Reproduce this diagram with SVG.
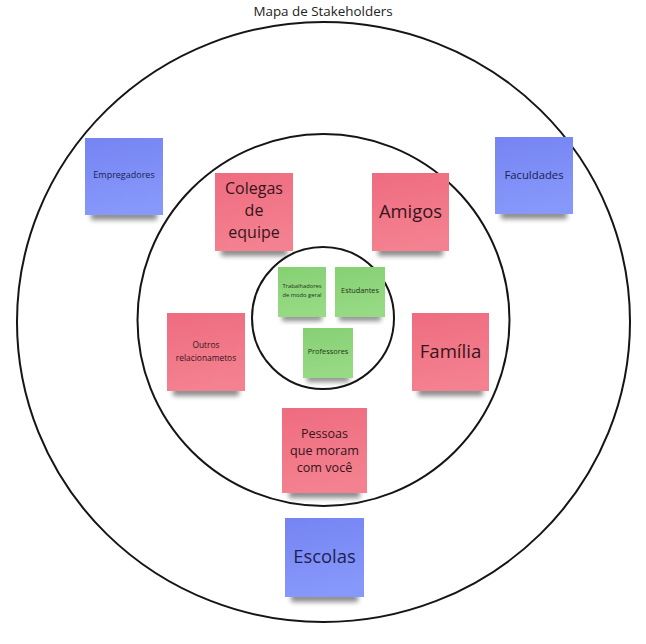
<svg xmlns="http://www.w3.org/2000/svg" width="646" height="644" viewBox="0 0 646 644">
<style>
text{font-family:"Open Sans","Noto Sans","Liberation Sans",sans-serif;text-anchor:middle;dominant-baseline:central}
.ring{fill:none;stroke:#151515;stroke-width:2}
.red{fill:url(#gr)}
.blue{fill:url(#gb)}
.green{fill:url(#gg)}
.sh{fill:#000;opacity:.45;filter:url(#blur)}
.tr{fill:#35141c}
.tb{fill:#1a2250}
.tg{fill:#1f3319}
</style>
<defs>
<linearGradient id="gr" x1="0" y1="0" x2="0.2" y2="1"><stop offset="0" stop-color="#ee6c7f"/><stop offset="1" stop-color="#f4818f"/></linearGradient>
<linearGradient id="gb" x1="0" y1="0" x2="0.2" y2="1"><stop offset="0" stop-color="#7584f2"/><stop offset="1" stop-color="#8798fb"/></linearGradient>
<linearGradient id="gg" x1="0" y1="0" x2="0.2" y2="1"><stop offset="0" stop-color="#86d073"/><stop offset="1" stop-color="#97da84"/></linearGradient>
<filter id="blur" x="-20%" y="-50%" width="140%" height="200%"><feGaussianBlur stdDeviation="2.5"/></filter>
</defs>
<rect width="646" height="644" fill="#fff"/>
<text x="323" y="11" font-size="13.4" fill="#222">Mapa de Stakeholders</text>
<g id="rings">
<ellipse class="ring" cx="323.5" cy="322" rx="306.5" ry="300"/>
<circle class="ring" cx="323.5" cy="320" r="186"/>
<circle class="ring" cx="323" cy="318" r="71"/>
</g>
<g id="connectors"></g>
<g id="empregadores">
<rect class="sh" x="91" y="211" width="66" height="9"/>
<rect class="blue" x="85" y="138" width="78" height="77"/>
<text class="tb" x="124" y="174" font-size="9">Empregadores</text>
</g>
<g id="faculdades">
<rect class="sh" x="501" y="210" width="66" height="9"/>
<rect class="blue" x="495" y="137" width="78" height="77"/>
<text class="tb" x="534" y="174" font-size="11.3">Faculdades</text>
</g>
<g id="colegas">
<rect class="sh" x="221" y="247" width="66" height="9"/>
<rect class="red" x="215" y="173" width="78" height="78"/>
<text class="tr" font-size="16"><tspan x="254" y="188">Colegas</tspan><tspan x="254" y="210">de</tspan><tspan x="254" y="232">equipe</tspan></text>
</g>
<g id="amigos">
<rect class="sh" x="378" y="247" width="65" height="9"/>
<rect class="red" x="372" y="173" width="77" height="78"/>
<text class="tr" x="410.5" y="210" font-size="18.4">Amigos</text>
</g>
<g id="outros">
<rect class="sh" x="173" y="387" width="66" height="9"/>
<rect class="red" x="167" y="313" width="78" height="78"/>
<text class="tr" font-size="8.4"><tspan x="206" y="344">Outros</tspan><tspan x="206" y="357">relacionametos</tspan></text>
</g>
<g id="familia">
<rect class="sh" x="418" y="387" width="65" height="9"/>
<rect class="red" x="412" y="313" width="77" height="78"/>
<text class="tr" x="450.5" y="350" font-size="18.6">Família</text>
</g>
<g id="pessoas">
<rect class="sh" x="289" y="489" width="71" height="9"/>
<rect class="red" x="282" y="408" width="85" height="85"/>
<text class="tr" font-size="12.6"><tspan x="324.5" y="433">Pessoas</tspan><tspan x="324.5" y="450">que moram</tspan><tspan x="324.5" y="467">com você</tspan></text>
</g>
<g id="escolas">
<rect class="sh" x="291" y="593" width="67" height="9"/>
<rect class="blue" x="285" y="518" width="79" height="79"/>
<text class="tb" x="324.5" y="555" font-size="18.4">Escolas</text>
</g>
<g id="trabalhadores">
<rect class="sh" x="282" y="314" width="40" height="7"/>
<rect class="green" x="278" y="267" width="48" height="50"/>
<text class="tg" font-size="5.8"><tspan x="302" y="286">Trabalhadores</tspan><tspan x="302" y="294.5">de modo geral</tspan></text>
</g>
<g id="estudantes">
<rect class="sh" x="339" y="314" width="42" height="7"/>
<rect class="green" x="335" y="267" width="50" height="50"/>
<text class="tg" x="360" y="290" font-size="7.3">Estudantes</text>
</g>
<g id="professores">
<rect class="sh" x="307" y="375" width="42" height="7"/>
<rect class="green" x="303" y="328" width="50" height="50"/>
<text class="tg" x="328" y="351" font-size="7.4">Professores</text>
</g>
</svg>
